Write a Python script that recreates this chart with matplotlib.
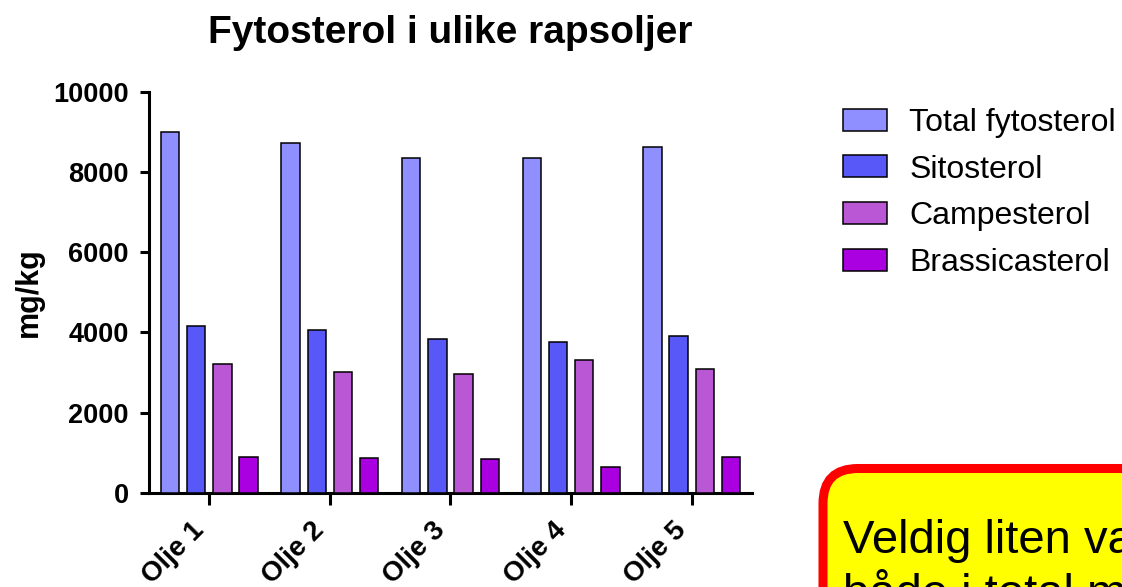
import matplotlib
matplotlib.use('Agg')
import matplotlib.pyplot as plt
import matplotlib.transforms as mtransforms
from matplotlib.patches import FancyBboxPatch
import numpy as np

plt.rcParams['font.family'] = ['Liberation Sans', 'DejaVu Sans']

oils = ['Olje 1', 'Olje 2', 'Olje 3', 'Olje 4', 'Olje 5']
series = ['Total fytosterol', 'Sitosterol', 'Campesterol', 'Brassicasterol']
total = [9000, 8710, 8360, 8360, 8610]
sitosterol = [4170, 4050, 3850, 3760, 3910]
campesterol = [3220, 3010, 2960, 3310, 3100]
brassicasterol = [905, 865, 850, 650, 900]
colors = ['#8F8FFF', '#5858F8', '#B957D5', '#AA00E1']

values = [total, sitosterol, campesterol, brassicasterol]

fig = plt.figure(figsize=(11.22, 5.87), dpi=100)
ax = fig.add_axes([0.1328, 0.1601, 0.5374, 0.6837])

x = np.arange(len(oils))
step = 0.217
width = 0.153
for i, (name, vals, c) in enumerate(zip(series, values, colors)):
    ax.bar(x + (i - 1.5) * step, vals, width, color=c, edgecolor='black',
           linewidth=1.1, label=name, zorder=3)

ax.set_xlim(-0.5, 4.5)
ax.set_ylim(0, 10000)
ax.set_yticks([0, 2000, 4000, 6000, 8000, 10000])
ax.set_xticks(x)
ax.set_xticklabels(oils, rotation=45, ha='right', va='top', fontsize=20, fontweight='bold')
offset = mtransforms.ScaledTranslation(9 / 100, 0, fig.dpi_scale_trans)
for lbl in ax.get_xticklabels():
    lbl.set_transform(lbl.get_transform() + offset)
for lbl in ax.get_yticklabels():
    lbl.set_fontsize(19.5)
    lbl.set_fontweight('bold')

for s in ['top', 'right']:
    ax.spines[s].set_visible(False)
for s in ['left', 'bottom']:
    ax.spines[s].set_linewidth(2.2)
ax.tick_params(axis='y', length=6.5, width=2.2, pad=8)
ax.tick_params(axis='x', length=8.5, width=2.2, pad=9)

ax.set_ylabel('mg/kg', fontsize=22, fontweight='bold', labelpad=7)
fig.text(0.401, 0.943, 'Fytosterol i ulike rapsoljer', ha='center', va='center',
         fontsize=28, fontweight='bold')

ax.legend(loc='upper left', bbox_to_anchor=(843 / 1122, 1 - 108 / 587),
          bbox_transform=fig.transFigure, frameon=False, fontsize=23,
          handlelength=1.38, handleheight=0.69, handletextpad=0.7,
          labelspacing=0.52, borderpad=0, borderaxespad=0)

# yellow comment box, cut off by the right and bottom edge (as in the slide)
box = FancyBboxPatch((823, -63), 400, 181.5,
                     boxstyle='round,pad=0,rounding_size=35',
                     facecolor='#FFFF00', edgecolor='#FF0000', linewidth=6.5,
                     transform=mtransforms.IdentityTransform(), zorder=5)
fig.patches.append(box)
fig.text(843 / 1122, -20 / 587, 'Veldig liten variasjon\nbåde i total mengde',
         ha='left', va='baseline', fontsize=34, linespacing=1.17, zorder=6)

fig.savefig('out.png', dpi=100)
